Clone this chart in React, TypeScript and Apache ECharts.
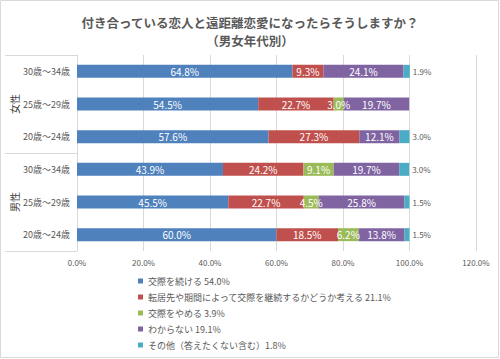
import React, { useEffect, useRef } from "react";
import * as echarts from "echarts";

const ageCategories = ["30歳～34歳", "25歳～29歳", "20歳～24歳", "30歳～34歳", "25歳～29歳", "20歳～24歳"];
const genderCategories = ["女性", "男性"];
const xTicks = [0, 20, 40, 60, 80, 100, 120];

const seriesNames = [
  "交際を続ける",
  "転居先や期間によって交際を継続するかどうか考える",
  "交際をやめる",
  "わからない",
  "その他（答えたくない含む）",
];
const seriesTotals = [54.0, 21.1, 3.9, 19.1, 1.8];
const seriesColors = ["#4F81BD", "#C0504D", "#9BBB59", "#8064A2", "#4BACC6"];

const continueVals = [64.8, 54.5, 57.6, 43.9, 45.5, 60.0];
const considerVals = [9.3, 22.7, 27.3, 24.2, 22.7, 18.5];
const quitVals = [0, 3.0, 0, 9.1, 4.5, 6.2];
const unknownVals = [24.1, 19.7, 12.1, 19.7, 25.8, 13.8];
const otherVals = [1.9, 0, 3.0, 3.0, 1.5, 1.5];

const allVals = [continueVals, considerVals, quitVals, unknownVals, otherVals];

const FONT = "'Noto Sans CJK JP', 'Noto Sans', sans-serif";

export default function App() {
  const ref = useRef<HTMLDivElement>(null);
  useEffect(() => {
    if (!ref.current) return;
    const chart = echarts.init(ref.current, undefined, { renderer: "svg" });
    const fmt = (p: any) => (p.value ? p.value.toFixed(1) + "%" : "");
    const legendNames = seriesNames.map(
      (n, i) => `${n}${n.endsWith("）") ? "" : " "}${seriesTotals[i].toFixed(1)}%`
    );
    chart.setOption({
      animation: false,
      textStyle: { fontFamily: FONT },
      title: {
        text: "付き合っている恋人と遠距離恋愛になったらそうしますか？\n（男女年代別）",
        left: "center",
        top: 8,
        textStyle: {
          fontFamily: FONT,
          fontSize: 12.5,
          fontWeight: "bold",
          color: "#595959",
          lineHeight: 18,
        },
      },
      graphic: [
        {
          type: "rect",
          shape: { x: 0.5, y: 0.5, width: 498, height: 357 },
          style: { fill: "none", stroke: "#d9d9d9", lineWidth: 1 },
          silent: true,
        },
      ],
      legend: {
        orient: "vertical",
        left: 138,
        top: 275,
        height: 90,
        padding: 0,
        itemWidth: 5,
        itemHeight: 5,
        itemGap: 4,
        icon: "rect",
        data: legendNames,
        textStyle: { fontFamily: FONT, fontSize: 9, color: "#595959", lineHeight: 12 },
      },
      grid: { left: 77, right: 24, top: 55, bottom: 108, containLabel: false },
      xAxis: {
        type: "value",
        min: xTicks[0],
        max: xTicks[xTicks.length - 1],
        interval: xTicks[1] - xTicks[0],
        axisLine: { show: false },
        axisTick: { show: false },
        splitLine: { lineStyle: { color: "#d9d9d9", width: 1 } },
        axisLabel: {
          formatter: (v: number) => v.toFixed(1) + "%",
          fontSize: 8,
          color: "#595959",
          margin: 7,
          fontFamily: FONT,
        },
      },
      yAxis: [
        {
          type: "category",
          data: ageCategories,
          inverse: true,
          axisLine: { show: true, lineStyle: { color: "#d9d9d9" } },
          axisTick: { show: false },
          axisLabel: { fontSize: 9, color: "#595959", margin: 7, fontFamily: FONT },
        },
        {
          type: "category",
          data: genderCategories,
          inverse: true,
          position: "left",
          offset: 72,
          axisLine: { show: false },
          axisTick: {
            show: true,
            inside: true,
            length: 72,
            lineStyle: { color: "#d9d9d9" },
          },
          axisLabel: {
            inside: true,
            rotate: 90,
            margin: 4,
            fontSize: 10,
            color: "#404040",
            fontFamily: FONT,
          },
        },
      ],
      series: allVals.map((vals, i) => ({
        type: "bar",
        name: legendNames[i],
        stack: "total",
        yAxisIndex: 0,
        barWidth: 13,
        data: vals,
        itemStyle: { color: seriesColors[i] },
        label:
          i === 4
            ? {
                show: true,
                position: "right",
                distance: 3,
                fontSize: 8,
                color: "#595959",
                formatter: fmt,
                fontFamily: FONT,
              }
            : {
                show: true,
                position: "inside",
                fontSize: 10,
                color: "#ffffff",
                formatter: fmt,
                fontFamily: FONT,
              },
      })),
    });
    return () => chart.dispose();
  }, []);
  return (
    <div
      ref={ref}
      style={{ position: "fixed", left: 0, top: 0, width: 500, height: 359, background: "#fff" }}
    />
  );
}
